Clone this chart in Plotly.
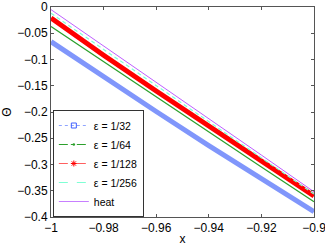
import plotly.graph_objects as go

x_vals = [-1.0, -0.98, -0.96, -0.94, -0.92, -0.9]
eps32 = [-0.066, -0.133, -0.199, -0.264, -0.328, -0.390]
eps64 = [-0.037, -0.104, -0.172, -0.239, -0.305, -0.371]
eps128 = [-0.021, -0.092, -0.160, -0.227, -0.294, -0.360]
eps256 = [-0.012, -0.081, -0.150, -0.219, -0.288, -0.356]
heat = [-0.005, -0.074, -0.143, -0.213, -0.282, -0.352]

series_names = ["ε = 1/32", "ε = 1/64", "ε = 1/128", "ε = 1/256", "heat"]

x_ticks = [-1, -0.98, -0.96, -0.94, -0.92, -0.9]
x_tick_text = ["−1", "−0.98", "−0.96", "−0.94", "−0.92", "−0.9"]
y_ticks = [0, -0.05, -0.1, -0.15, -0.2, -0.25, -0.3, -0.35, -0.4]
y_tick_text = ["0", "−0.05", "−0.1", "−0.15", "−0.2", "−0.25", "−0.3", "−0.35", "−0.4"]

FONT = "Liberation Sans, Arial, sans-serif"

fig = go.Figure()

# main curves (drawn without legend)
fig.add_trace(go.Scatter(x=x_vals, y=eps32, mode="lines", showlegend=False,
                         line=dict(color="rgba(85,115,250,0.75)", width=5)))
fig.add_trace(go.Scatter(x=x_vals, y=eps64, mode="lines", showlegend=False,
                         line=dict(color="#2ca02c", width=1.2)))
fig.add_trace(go.Scatter(x=x_vals, y=eps128, mode="lines", showlegend=False,
                         line=dict(color="#ff0000", width=5)))
fig.add_trace(go.Scatter(x=x_vals, y=eps256, mode="lines", showlegend=False,
                         line=dict(color="#7fffd4", width=1.2, dash="4px,3px")))
fig.add_trace(go.Scatter(x=x_vals, y=heat, mode="lines", showlegend=False,
                         line=dict(color="#bf5fff", width=1)))

# legend entries
fig.add_trace(go.Scatter(x=[None], y=[None], mode="lines+markers", name=series_names[0],
                         line=dict(color="#8fa4ff", width=1, dash="dot"),
                         marker=dict(symbol="square-open", size=5, color="#4060ff")))
fig.add_trace(go.Scatter(x=[None], y=[None], mode="lines+markers", name=series_names[1],
                         line=dict(color="#2ca02c", width=1, dash="dashdot"),
                         marker=dict(symbol="circle", size=2.5, color="#2ca02c")))
fig.add_trace(go.Scatter(x=[None], y=[None], mode="lines+markers", name=series_names[2],
                         line=dict(color="#ff6060", width=1, dash="dash"),
                         marker=dict(symbol="asterisk", size=5, color="#ff0000",
                                     line=dict(color="#ff0000", width=1))))
fig.add_trace(go.Scatter(x=[None], y=[None], mode="lines", name=series_names[3],
                         line=dict(color="#7fffd4", width=1, dash="dash")))
fig.add_trace(go.Scatter(x=[None], y=[None], mode="lines", name=series_names[4],
                         line=dict(color="#c77fff", width=1)))

axis_common = dict(showline=True, linecolor="#555", linewidth=1, mirror="ticks",
                   ticks="inside", ticklen=3, tickcolor="#555", showgrid=False,
                   zeroline=False, automargin=False, ticklabeloverflow="allow",
                   tickfont=dict(family=FONT, size=12, color="black"))

fig.update_layout(
    width=325, height=249,
    margin=dict(l=51, r=11, t=7, b=32),
    paper_bgcolor="white", plot_bgcolor="white",
    font=dict(family=FONT, size=12, color="black"),
    showlegend=True,
    legend=dict(x=0.007, y=0.0, xanchor="left", yanchor="bottom",
                bgcolor="white", bordercolor="#333", borderwidth=1,
                font=dict(family=FONT, size=10.5), tracegroupgap=0,
                itemwidth=30),
    xaxis=dict(range=[-1.00001, -0.89999], tickvals=x_ticks, ticktext=x_tick_text,
               title=dict(text="x", standoff=0, font=dict(family=FONT, size=12)),
               **axis_common),
    yaxis=dict(range=[-0.40001, 0.00001], tickvals=y_ticks, ticktext=y_tick_text,
               title=dict(text="Θ", standoff=4, font=dict(family=FONT, size=12)),
               **axis_common),
)

fig.write_html("out.html",
               config={"displayModeBar": False},
               post_script="document.body.style.margin='0';document.body.style.overflow='hidden';")
